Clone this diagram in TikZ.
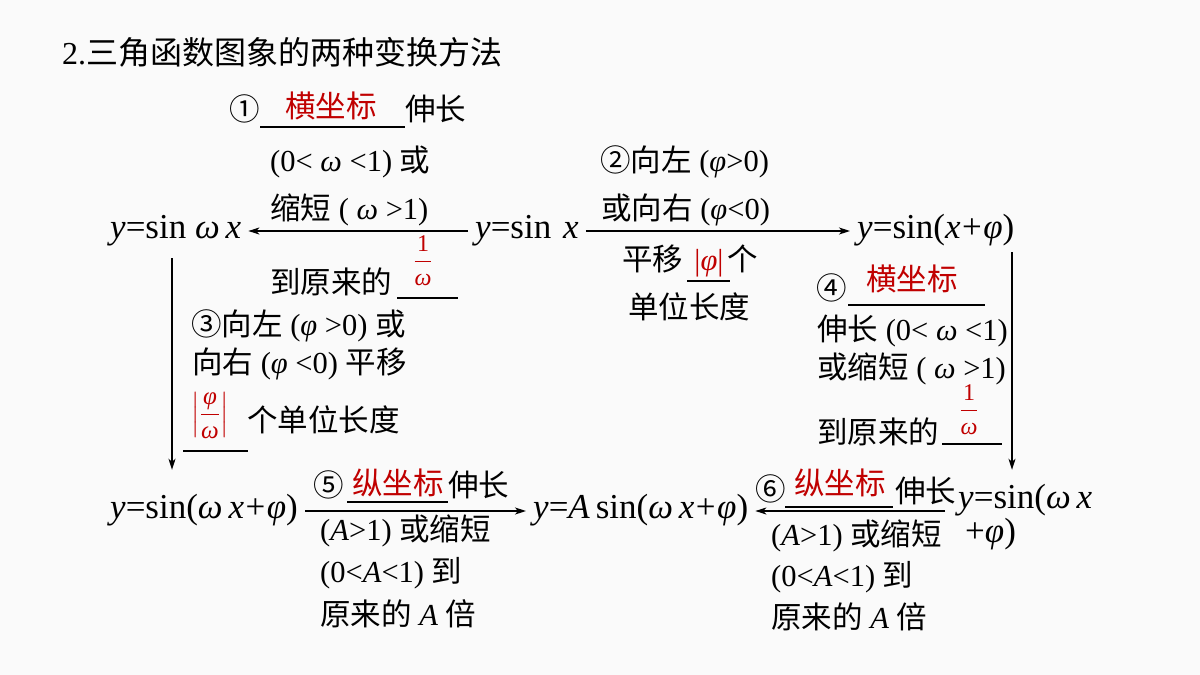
\documentclass[tikz,border=0pt]{standalone}
\usepackage{fontspec}
\usepackage{amsmath}
\setmainfont{Liberation Serif}
\newfontfamily\cjk{Noto Sans CJK SC}
\usetikzlibrary{arrows.meta, positioning}

\definecolor{ansred}{HTML}{C00000}
\newcommand{\zh}[1]{{\cjk #1}}
\newcommand{\vi}[1]{\textit{#1}}
\newcommand{\pl}{\hspace{1.5pt}+\hspace{1.5pt}}
\newcommand{\invw}{$\dfrac{\text{1}}{\text{\itshape ω}}$}

\tikzset{
  fn/.style={font=\fontsize{35}{38}\selectfont, inner xsep=7pt, inner ysep=0pt,
    text height=21pt, text depth=7pt, anchor=base west},
  lab/.style={font=\fontsize{30.5}{34}\selectfont, inner sep=0pt, anchor=base west},
  ans/.style={lab, text=ansred, anchor=base},
  frac/.style={font=\fontsize{24}{26}\selectfont, inner sep=0pt, text=ansred, anchor=base},
  arr/.style={line width=1.4pt, -{Stealth[length=11pt, width=7pt, inset=3pt]}},
  uline/.style={line width=1.4pt}
}

\begin{document}
\begin{tikzpicture}[x=1pt, y=-1pt]
  \useasboundingbox (0,0) rectangle (1200,675);
  \fill[white!98!black] (0,0) rectangle (1200,675);

  \node[lab, font=\fontsize{32}{36}\selectfont] (title) at (62,64) {2.\zh{三角函数图象的两种变换方法}};

  % the six functions
  \node[fn] (sinwx) at (103,238) {\vi{y}=sin \vi{ω\,x}};
  \node[fn] (sinx) at (468,238) {\vi{y}=sin\hspace{3pt} \vi{x}};
  \node[fn] (sinxphi) at (850,238) {\vi{y}=sin(\vi{x}\pl\vi{φ})};
  \node[fn] (sinwxphi) at (103,518) {\vi{y}=sin(\vi{ω\,x}\pl\vi{φ})};
  \node[fn] (Asin) at (526,518) {\vi{y}=\vi{A}\,sin(\vi{ω\,x}\pl\vi{φ})};
  \node[fn] (sinwxR) at (951,508) {\vi{y}=sin(\vi{ω\,x}};
  \node[fn] (sinwxRb) at (958,542) {+\vi{φ})};

  % arrows
  \draw[arr] (sinx.west) -- (sinwx.east);
  \draw[arr] (sinx.east) -- (sinxphi.west);
  \draw[arr, shorten <=13pt, shorten >=27pt] ([xshift=69pt]sinwx.south west) -- ([xshift=69pt]sinwx.south west |- sinwxphi.north);
  \draw[arr, shorten <=7pt, shorten >=17pt] ([xshift=162pt]sinxphi.south west) -- ([xshift=162pt]sinxphi.south west |- sinwxR.north);
  \draw[arr] (sinwxphi.east) -- (Asin.west);
  \draw[arr, shorten <=6pt] (sinwxR.west |- Asin.east) -- (Asin.east);

  % label 1
  \node[lab] (n1) at (229,120) {\zh{①}};
  \node[ans] (a1) at (331,117) {\zh{横坐标}};
  \draw[uline] (260,127) -- (405,127);
  \node[lab] (l1a) at (405,120) {\zh{伸长}};
  \node[lab] (l1b) at (270,171) {(0< \vi{ω} <1) \zh{或}};
  \node[lab] (l1c) at (270,219) {\zh{缩短} ( \vi{ω} >1)};
  \node[lab] (l1d) at (270,293) {\zh{到原来的}};
  \draw[uline] (397,298) -- (458,298);
  \node[frac] (f1) at (423,268) {\invw};

  % label 2
  \node[lab] (l2a) at (600,171) {\zh{②向左} (\vi{φ}>0)};
  \node[lab] (l2b) at (601,219) {\zh{或向右} (\vi{φ}<0)};
  \node[lab] (l2c) at (622,270) {\zh{平移}};
  \node[ans] (a2) at (709,270) {|\vi{φ}|};
  \node[lab] (l2d) at (727,270) {\zh{个}};
  \draw[uline] (687,281) -- (730,281);
  \node[lab] (l2e) at (628,318) {\zh{单位长度}};

  % label 3
  \node[lab] (l3a) at (191,335) {\zh{③向左} (\vi{φ} >0) \zh{或}};
  \node[lab] (l3b) at (192,373) {\zh{向右} (\vi{φ} <0) \zh{平移}};
  \node[frac, font=\fontsize{25}{28}\selectfont] (f3) at (210,421) {$\left|\dfrac{\text{\itshape φ}}{\text{\itshape ω}}\right|$};
  \draw[uline] (183,451) -- (248,451);
  \node[lab] (l3c) at (247,431) {\zh{个单位长度}};

  % label 4
  \node[lab] (n4) at (816,299) {\zh{④}};
  \node[ans] (a4) at (912,290) {\zh{横坐标}};
  \draw[uline] (848,305) -- (985,305);
  \node[lab] (l4a) at (817,340) {\zh{伸长} (0< \vi{ω} <1)};
  \node[lab] (l4b) at (817,378) {\zh{或缩短} ( \vi{ω} >1)};
  \node[lab] (l4c) at (817,443) {\zh{到原来的}};
  \draw[uline] (942,444) -- (1002,444);
  \node[frac] (f4) at (969,417) {\invw};

  % label 5
  \node[lab] (n5) at (313,496) {\zh{⑤}};
  \node[ans] (a5) at (398,494) {\zh{纵坐标}};
  \draw[uline] (347,502) -- (448,502);
  \node[lab] (l5a) at (448,496) {\zh{伸长}};
  \node[lab] (l5b) at (320,540) {(\vi{A}>1) \zh{或缩短}};
  \node[lab] (l5c) at (320,582) {(0<\vi{A}<1) \zh{到}};
  \node[lab] (l5d) at (320,625) {\zh{原来的} \vi{A} \zh{倍}};

  % label 6
  \node[lab] (n6) at (755,500) {\zh{⑥}};
  \node[ans] (a6) at (840,494) {\zh{纵坐标}};
  \draw[uline] (785,507) -- (893,507);
  \node[lab] (l6a) at (895,502) {\zh{伸长}};
  \node[lab] (l6b) at (771,545) {(\vi{A}>1) \zh{或缩短}};
  \node[lab] (l6c) at (771,586) {(0<\vi{A}<1) \zh{到}};
  \node[lab] (l6d) at (771,628) {\zh{原来的} \vi{A} \zh{倍}};
\end{tikzpicture}
\end{document}
